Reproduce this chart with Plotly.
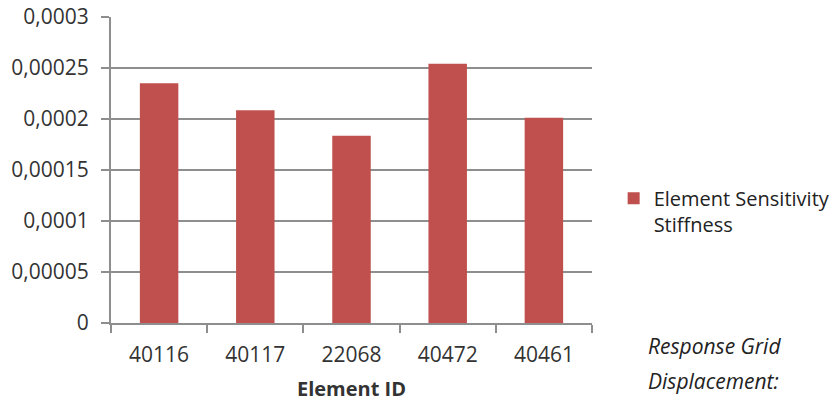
import plotly.graph_objects as go

# Element sensitivity values per element
element_ids = ["40116", "40117", "22068", "40472", "40461"]
sensitivity = [0.000235, 0.0002085, 0.0001836, 0.0002542, 0.0002013]

series_name = "Element Sensitivity<br>Stiffness"
x_title = "Element ID"
side_note = ["Response Grid", "Displacement:"]

BAR = "#C0504D"
GRID = "#8e8e8e"
TXT = "#333333"
FONT = "Open Sans"
FS = 21

fig = go.Figure()
fig.add_trace(go.Bar(
    x=element_ids,
    y=sensitivity,
    name=series_name,
    marker=dict(color=BAR, line=dict(width=0)),
    showlegend=True,
))

fig.update_layout(
    width=837,
    height=402,
    margin=dict(l=111, r=245, t=17, b=79, autoexpand=False),
    paper_bgcolor="white",
    plot_bgcolor="white",
    bargap=0.6,
    separators=", ",
    font=dict(family=FONT, size=FS, color=TXT),
    legend=dict(
        x=1.045, xanchor="left",
        y=0.365, yanchor="middle",
        font=dict(family=FONT, size=FS - 1, color="#222222"),
        valign="top",
        bgcolor="rgba(0,0,0,0)",
    ),
)

fig.update_xaxes(
    type="category",
    showline=True, linecolor=GRID, linewidth=2,
    ticks="outside", tickson="boundaries", ticklen=8, tickwidth=2, tickcolor=GRID,
    ticklabelstandoff=12,
    tickfont=dict(family=FONT, size=FS, color=TXT),
    showgrid=False,
    title=dict(text="<b>" + x_title + "</b>", standoff=16,
               font=dict(family=FONT, size=FS - 1, color=TXT)),
)

fig.update_yaxes(
    range=[0, 0.0003],
    dtick=0.00005,
    tickformat=".5~f",
    showline=True, linecolor=GRID, linewidth=2,
    ticks="outside", ticklen=8, tickwidth=2, tickcolor=GRID,
    ticklabelstandoff=8,
    tickfont=dict(family=FONT, size=FS, color=TXT),
    showgrid=True, gridcolor=GRID, gridwidth=2,
    zeroline=False,
)

# Italic side note under the legend
for i, line in enumerate(side_note):
    fig.add_annotation(
        xref="paper", yref="paper",
        x=(646 - 111) / 481, xanchor="left",
        y=(402 - 79 - (346 + 35 * i)) / 306, yanchor="middle",
        text="<i>" + line + "</i>",
        showarrow=False,
        font=dict(family=FONT, size=FS, color="#222222"),
    )

fig.write_html("out.html")
